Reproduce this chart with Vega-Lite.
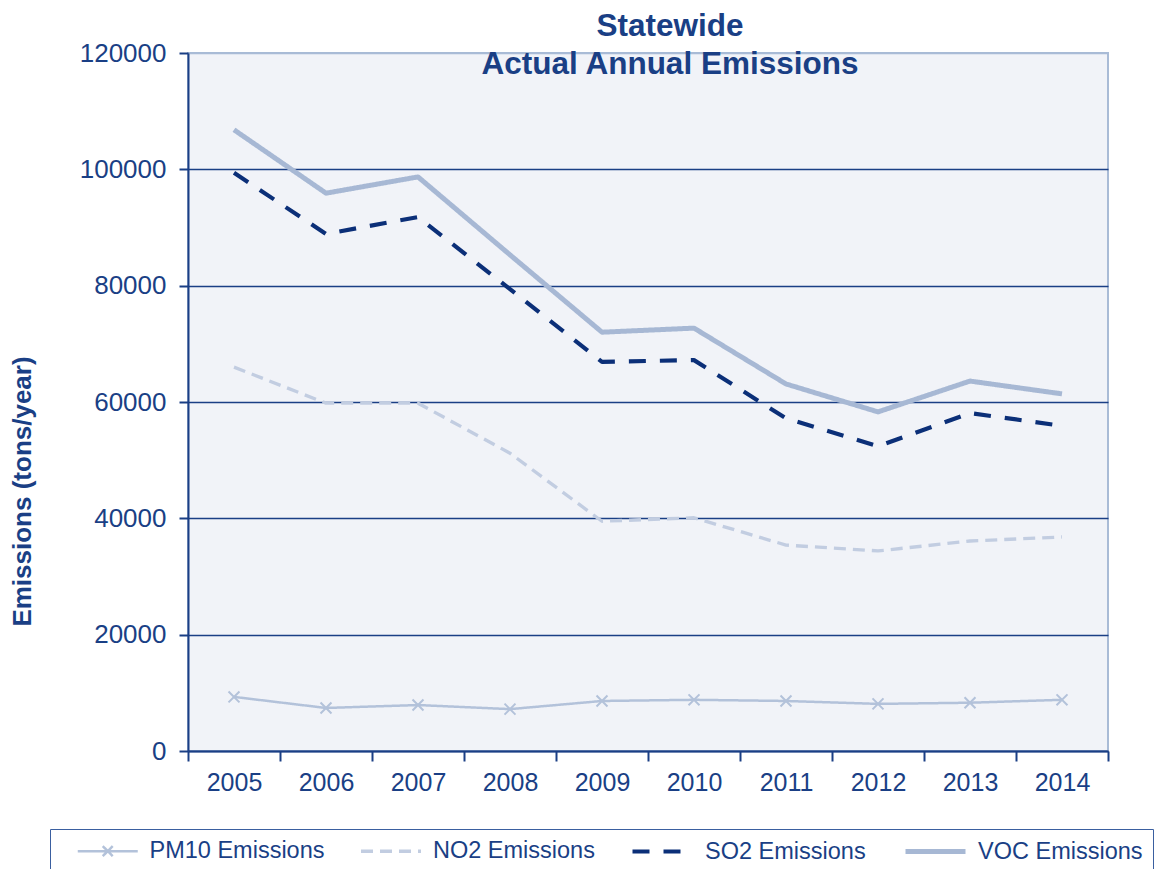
{
  "$schema": "https://vega.github.io/schema/vega-lite/v6.json",
  "width": 920,
  "height": 698,
  "autosize": {"type": "none"},
  "padding": {"left": 188, "top": 53, "right": 51, "bottom": 118},
  "background": "white",
  "config": {
    "font": "Liberation Sans",
    "view": {"fill": "#f1f3f8", "stroke": "#a9bbd6", "strokeWidth": 2}
  },
  "title": {
    "text": ["Statewide", "Actual Annual Emissions"],
    "fontSize": 31.5,
    "fontWeight": "bold",
    "color": "#1a3f85",
    "anchor": "middle",
    "offset": 0,
    "dx": 22,
    "dy": 40,
    "lineHeight": 38
  },
  "data": {
    "values": [
      {"year": "2005", "series": "PM10 Emissions", "value": 9300},
      {"year": "2006", "series": "PM10 Emissions", "value": 7400},
      {"year": "2007", "series": "PM10 Emissions", "value": 7900},
      {"year": "2008", "series": "PM10 Emissions", "value": 7200},
      {"year": "2009", "series": "PM10 Emissions", "value": 8600},
      {"year": "2010", "series": "PM10 Emissions", "value": 8800},
      {"year": "2011", "series": "PM10 Emissions", "value": 8600},
      {"year": "2012", "series": "PM10 Emissions", "value": 8100},
      {"year": "2013", "series": "PM10 Emissions", "value": 8300},
      {"year": "2014", "series": "PM10 Emissions", "value": 8800},
      {"year": "2005", "series": "NO2 Emissions", "value": 66000},
      {"year": "2006", "series": "NO2 Emissions", "value": 59800},
      {"year": "2007", "series": "NO2 Emissions", "value": 59800},
      {"year": "2008", "series": "NO2 Emissions", "value": 51200},
      {"year": "2009", "series": "NO2 Emissions", "value": 39500},
      {"year": "2010", "series": "NO2 Emissions", "value": 40100},
      {"year": "2011", "series": "NO2 Emissions", "value": 35400},
      {"year": "2012", "series": "NO2 Emissions", "value": 34400},
      {"year": "2013", "series": "NO2 Emissions", "value": 36100},
      {"year": "2014", "series": "NO2 Emissions", "value": 36800},
      {"year": "2005", "series": "SO2 Emissions", "value": 99400},
      {"year": "2006", "series": "SO2 Emissions", "value": 88900},
      {"year": "2007", "series": "SO2 Emissions", "value": 91800},
      {"year": "2008", "series": "SO2 Emissions", "value": 79400},
      {"year": "2009", "series": "SO2 Emissions", "value": 66900},
      {"year": "2010", "series": "SO2 Emissions", "value": 67200},
      {"year": "2011", "series": "SO2 Emissions", "value": 57200},
      {"year": "2012", "series": "SO2 Emissions", "value": 52400},
      {"year": "2013", "series": "SO2 Emissions", "value": 58100},
      {"year": "2014", "series": "SO2 Emissions", "value": 55900},
      {"year": "2005", "series": "VOC Emissions", "value": 106800},
      {"year": "2006", "series": "VOC Emissions", "value": 95900},
      {"year": "2007", "series": "VOC Emissions", "value": 98700},
      {"year": "2008", "series": "VOC Emissions", "value": 85300},
      {"year": "2009", "series": "VOC Emissions", "value": 72000},
      {"year": "2010", "series": "VOC Emissions", "value": 72700},
      {"year": "2011", "series": "VOC Emissions", "value": 63100},
      {"year": "2012", "series": "VOC Emissions", "value": 58300},
      {"year": "2013", "series": "VOC Emissions", "value": 63600},
      {"year": "2014", "series": "VOC Emissions", "value": 61400}
    ]
  },
  "encoding": {
    "x": {
      "field": "year",
      "type": "ordinal",
      "scale": {"type": "band", "paddingInner": 0, "paddingOuter": 0},
      "axis": {
        "title": null,
        "labelAngle": 0,
        "labelFontSize": 25,
        "labelColor": "#1a3f85",
        "labelPadding": 9,
        "tickBand": "extent",
        "tickSize": 10,
        "tickColor": "#1a3f85",
        "tickWidth": 2,
        "domainColor": "#1a3f85",
        "domainWidth": 2,
        "grid": false
      }
    },
    "y": {
      "field": "value",
      "type": "quantitative",
      "scale": {"domain": [0, 120000], "nice": false},
      "axis": {
        "title": "Emissions (tons/year)",
        "titleFontSize": 26,
        "titleFontWeight": "bold",
        "titleColor": "#1a3f85",
        "titleAngle": -90,
        "titleAlign": "center",
        "titleBaseline": "middle",
        "titleX": -166,
        "titleY": 438,
        "values": [0, 20000, 40000, 60000, 80000, 100000, 120000],
        "format": "d",
        "labelFontSize": 26,
        "labelColor": "#1a3f85",
        "labelPadding": 13,
        "tickSize": 9,
        "tickColor": "#1a3f85",
        "tickWidth": 2,
        "domainColor": "#1a3f85",
        "domainWidth": 2,
        "grid": true,
        "gridColor": {"condition": {"test": "datum.value == 120000", "value": "#a9bbd6"}, "value": "#1a3f85"},
        "gridWidth": 1.3
      }
    }
  },
  "layer": [
    {
      "mark": {"type": "line", "strokeCap": "butt", "strokeJoin": "round"},
      "encoding": {
        "detail": {"field": "series"},
        "stroke": {
          "field": "series",
          "type": "nominal",
          "sort": ["PM10 Emissions", "NO2 Emissions", "SO2 Emissions", "VOC Emissions"],
          "scale": {
            "domain": ["PM10 Emissions", "NO2 Emissions", "SO2 Emissions", "VOC Emissions"],
            "range": ["#b3c2da", "#c2cde1", "#0b2f78", "#a7b8d4"]
          },
          "legend": {
            "title": " ",
            "titleOrient": "left",
            "titlePadding": 36,
            "titleFontSize": 12,
            "orient": "none",
            "legendX": -138,
            "legendY": 776,
            "direction": "horizontal",
            "symbolType": "M-3,0L3,0",
            "symbolSize": 400,
            "labelFontSize": 23.5,
            "labelLimit": 400,
            "labelColor": "#1a3f85",
            "labelOffset": 30,
            "columnPadding": 29,
            "strokeColor": "#3a5fa0",
            "padding": 10,
            "offset": 0,
            "encode": {
              "symbols": {
                "update": {
                  "shape": {"signal": "datum.value == 'PM10 Emissions' ? 'M-3,0L3,0M-0.5,-0.5L0.5,0.5M-0.5,0.5L0.5,-0.5' : 'M-3,0L3,0'"}
                }
              }
            }
          }
        },
        "strokeDash": {
          "field": "series",
          "type": "nominal",
          "scale": {
            "domain": ["PM10 Emissions", "NO2 Emissions", "SO2 Emissions", "VOC Emissions"],
            "range": [[1, 0], [12, 7], [17, 14], [1, 0]]
          },
          "legend": null
        },
        "strokeWidth": {
          "field": "series",
          "type": "nominal",
          "scale": {
            "domain": ["PM10 Emissions", "NO2 Emissions", "SO2 Emissions", "VOC Emissions"],
            "range": [2.5, 5, 5, 5.5]
          },
          "legend": null
        }
      }
    },
    {
      "transform": [{"filter": "datum.series == 'PM10 Emissions'"}],
      "mark": {
        "type": "point",
        "shape": "M-1,-1L1,1M-1,1L1,-1",
        "filled": false,
        "size": 120,
        "strokeWidth": 2,
        "color": "#b3c2da",
        "opacity": 1
      }
    }
  ]
}
